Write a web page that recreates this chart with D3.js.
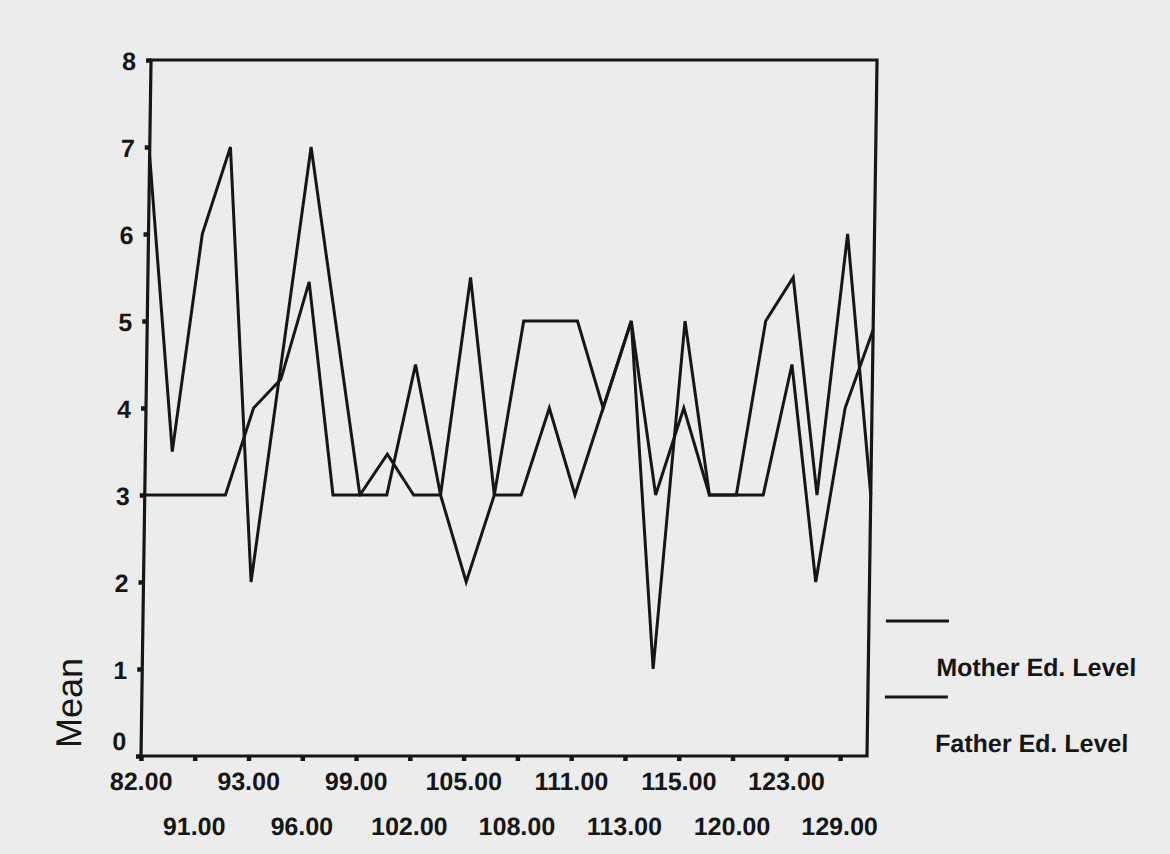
<!DOCTYPE html>
<html>
<head>
<meta charset="utf-8">
<script src="https://cdn.jsdelivr.net/npm/d3@7"></script>
<style>
  body { margin: 0; background: #ececec; }
  svg { display: block; }
  text { font-family: "Liberation Sans", Arial, sans-serif; fill: #161616; }
</style>
</head>
<body>
<div id="chart"></div>
<script>
// x categories (only every other one gets a label on the axis)
const categories = [82, 88, 91, 92, 93, 94, 96, 97, 99, 100, 102, 103, 105, 106,
                    108, 109, 111, 112, 113, 114, 115, 117, 120, 121, 123, 125, 129, 133];
const motherEd = [6.9, 3.5, 6.0, 7.0, 2.0, 4.5, 7.0, 5.0, 3.0, 3.0, 4.5, 3.0, 5.5, 3.0,
                  5.0, 5.0, 5.0, 4.0, 5.0, 1.0, 5.0, 3.0, 3.0, 5.0, 5.5, 3.0, 6.0, 3.0];
const fatherEd = [3.0, 3.0, 3.0, 3.0, 4.0, 4.33, 5.45, 3.0, 3.0, 3.47, 3.0, 3.0, 2.0, 3.0,
                  3.0, 4.0, 3.0, 4.0, 5.0, 3.0, 4.0, 3.0, 3.0, 3.0, 4.5, 2.0, 4.0, 4.9];
const yTicks = [0, 1, 2, 3, 4, 5, 6, 7, 8];
const seriesNames = ["Mother Ed. Level", "Father Ed. Level"];

const width = 1170, height = 854;
const plotLeft = 141, plotRight = 867, plotTop = 60, plotBottom = 756;
const ink = "#161616";

const svg = d3.select("#chart").append("svg")
  .attr("width", width)
  .attr("height", height);

svg.append("rect").attr("width", width).attr("height", height).attr("fill", "#ececec");

// the scanned page is slightly sheared, keep the bottom edge fixed
const g = svg.append("g")
  .attr("transform", `matrix(1,0,-0.0144,1,${0.0144 * plotBottom},0)`);

const x = d3.scalePoint().domain(categories).range([plotLeft, plotRight]).padding(0);
const y = d3.scaleLinear().domain([0, 8]).range([plotBottom, plotTop]);

// frame
g.append("rect")
  .attr("x", plotLeft).attr("y", plotTop)
  .attr("width", plotRight - plotLeft).attr("height", plotBottom - plotTop)
  .attr("fill", "none").attr("stroke", ink).attr("stroke-width", 3.2);

// y axis
const yAxis = g.append("g")
  .attr("transform", `translate(${plotLeft},0)`)
  .call(d3.axisLeft(y).tickValues(yTicks).tickSize(5).tickPadding(10).tickFormat(d3.format("d")));
yAxis.select(".domain").remove();
yAxis.selectAll(".tick line").attr("stroke", ink).attr("stroke-width", 4.5);
yAxis.selectAll(".tick text")
  .style("font-size", "25px").style("font-weight", "bold")
  .attr("dy", d => d === 0 ? "-0.25em" : "0.36em");   // SPSS lifts the 0 off the corner

// x axis, labels alternate between two rows
const labelled = categories.filter((d, i) => i % 2 === 0);
const xAxis = g.append("g")
  .attr("transform", `translate(0,${plotBottom})`)
  .call(d3.axisBottom(x).tickValues(labelled).tickSize(5).tickPadding(0).tickFormat(d3.format(".2f")));
xAxis.select(".domain").remove();
xAxis.selectAll(".tick line").attr("stroke", ink).attr("stroke-width", 4.5);
xAxis.selectAll(".tick text")
  .style("font-size", "25px").style("font-weight", "bold")
  .attr("dy", null)
  .attr("y", (d, i) => i % 2 === 0 ? 34 : 79);

// lines
const line = d3.line()
  .x((d, i) => x(categories[i]))
  .y(d => y(d));

[motherEd, fatherEd].forEach(s => {
  g.append("path")
    .datum(s)
    .attr("d", line)
    .attr("fill", "none")
    .attr("stroke", ink)
    .attr("stroke-width", 3)
    .attr("stroke-linejoin", "miter");
});

// y title
g.append("text")
  .attr("transform", "translate(81,703) rotate(-90)")
  .attr("text-anchor", "middle")
  .style("font-size", "36px")
  .text("Mean");

// legend
const legend = g.append("g");
seriesNames.forEach((name, i) => {
  const ly = 621 + i * 76;
  legend.append("line")
    .attr("x1", 884).attr("x2", 947)
    .attr("y1", ly).attr("y2", ly)
    .attr("stroke", ink).attr("stroke-width", 3);
  legend.append("text")
    .attr("x", 935).attr("y", ly + 55)
    .style("font-size", "25px").style("font-weight", "bold")
    .text(name);
});
</script>
</body>
</html>
